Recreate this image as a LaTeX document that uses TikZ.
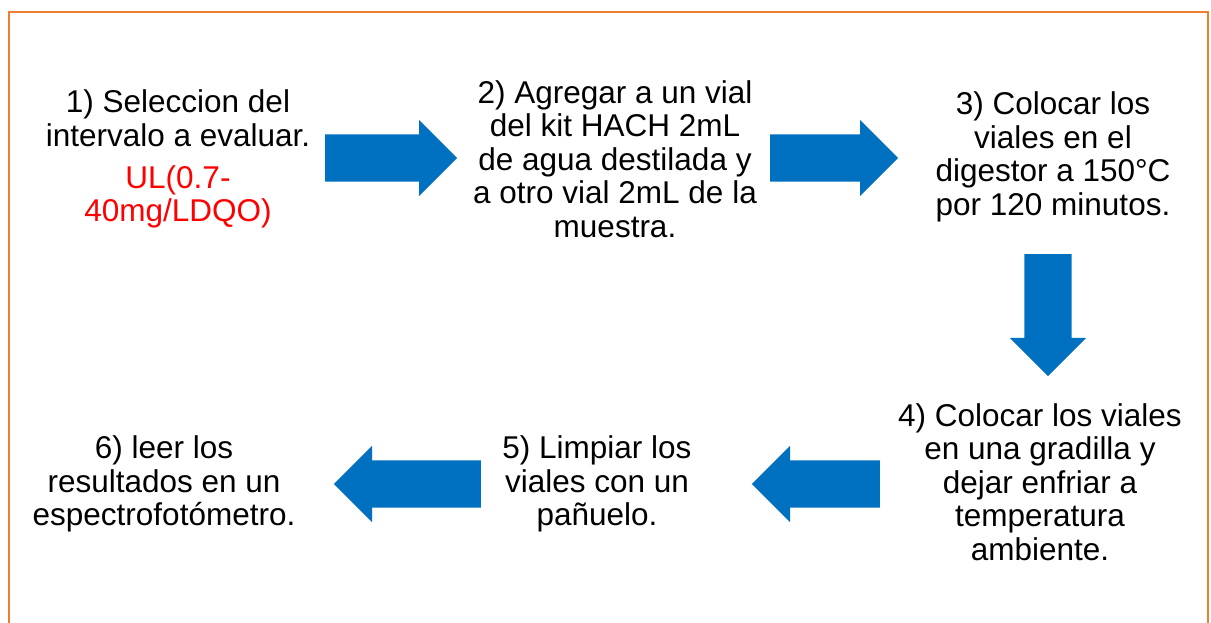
\documentclass[tikz,border=0pt]{standalone}
\usepackage{fontspec}
\setmainfont{Liberation Sans}
\usetikzlibrary{shapes.arrows}
\definecolor{flowblue}{RGB}{0,112,192}
\definecolor{frameorange}{RGB}{237,125,49}

\begin{document}
\begin{tikzpicture}[x=1pt,y=-1pt,
  paso/.style={align=center,font=\fontsize{31.5}{33.5}\selectfont,inner sep=0pt},
  flecha/.style={single arrow,fill=flowblue,draw=none,inner sep=23.5pt,anchor=tail,
    minimum width=76pt,single arrow head extend=14.5pt}]
\useasboundingbox (0,0) rectangle (1211,623);
\draw[frameorange,line width=2pt] (9,623) |- (1208,12) -- (1208,623);

% pasos
\node[paso] (p1) at (178,118) {1) Seleccion del\\intervalo a evaluar.};
\node[paso,text=red] (r1) at (178,197) {UL(0.7-\\40mg/LDQO)};
\node[paso] (p2) at (615,159) {2) Agregar a un vial\\del kit HACH 2mL\\de agua destilada y\\a otro vial 2mL de la\\muestra.};
\node[paso] (p3) at (1053,157) {3) Colocar los\\viales en el\\digestor a 150°C\\por 120 minutos.};
\node[paso] (p4) at (1040,482) {4) Colocar los viales\\en una gradilla y\\dejar enfriar a\\temperatura\\ambiente.};
\node[paso] (p5) at (597,484) {5) Limpiar los\\viales con un\\pañuelo.};
\node[paso] (p6) at (164,484) {6) leer los\\resultados en un\\espectrofotómetro.};

% flechas
\node[flecha,minimum height=132pt] (f12) at (325,158) {};
\node[flecha,minimum height=128pt] (f23) at (770,158) {};
\node[flecha,minimum height=122pt,shape border rotate=270] (f34) at (1048,254) {};
\node[flecha,minimum height=128pt,shape border rotate=180] (f45) at (880,484) {};
\node[flecha,minimum height=147pt,shape border rotate=180] (f56) at (481,484) {};
\end{tikzpicture}
\end{document}
